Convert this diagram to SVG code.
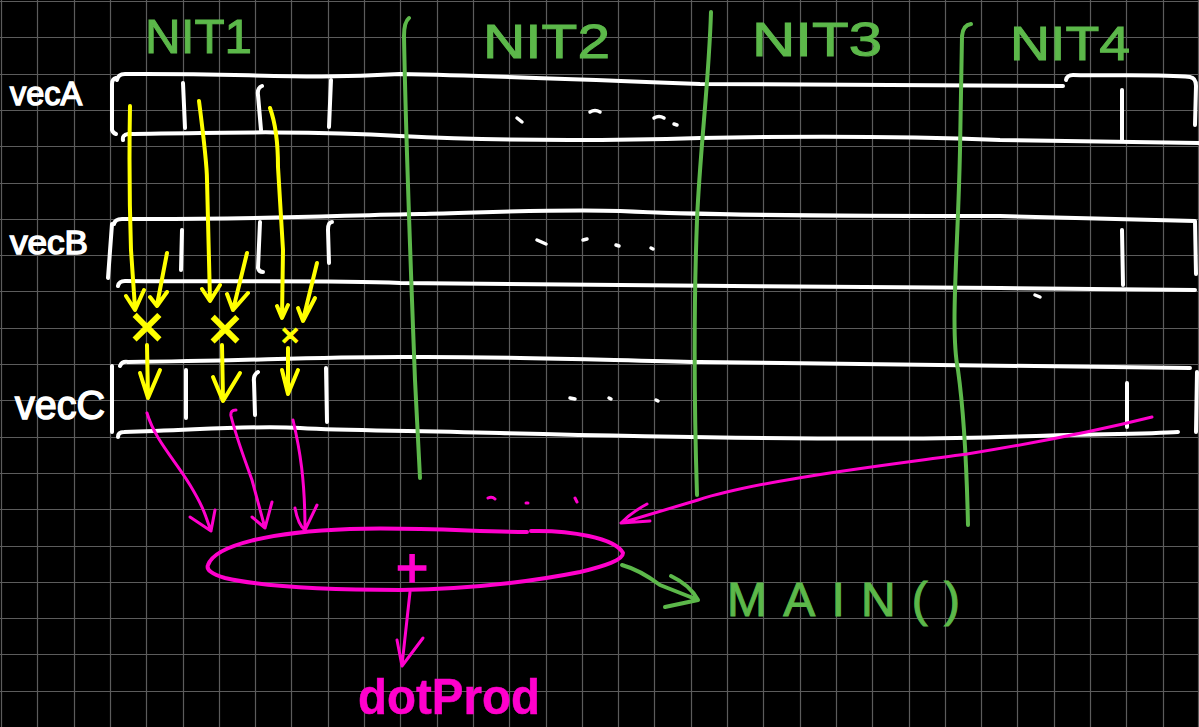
<svg xmlns="http://www.w3.org/2000/svg" width="1199" height="727" viewBox="0 0 1199 727">
<style>
.grid{stroke:#5c5c5c;stroke-width:1.2;fill:none}
.w{stroke:#fff;stroke-width:4;fill:none;stroke-linecap:round;stroke-linejoin:round}
.dot{stroke:#fff;stroke-width:3.5;fill:none;stroke-linecap:round}
.g{stroke:#5cb84a;stroke-width:4;fill:none;stroke-linecap:round;stroke-linejoin:round}
.y{stroke:#ffff00;stroke-width:4;fill:none;stroke-linecap:round;stroke-linejoin:round}
.p{stroke:#ff00cc;stroke-width:3;fill:none;stroke-linecap:round;stroke-linejoin:round}
.pe{stroke:#ff00cc;stroke-width:4;fill:none;stroke-linecap:round;stroke-linejoin:round}
.lbl{font-family:"Liberation Sans",Arial,sans-serif;fill:#fff}
.nit{font-family:"Liberation Sans",Arial,sans-serif;fill:#5cb84a;font-size:48px;stroke:#5cb84a;stroke-width:1}
.ytx{font-family:"Liberation Sans",Arial,sans-serif;fill:#ffff00;stroke:#ffff00;stroke-width:1.5;text-anchor:middle;dominant-baseline:central}
.ptx{font-family:"Liberation Sans",Arial,sans-serif;fill:#ff00cc;stroke:#ff00cc}
</style>
<rect width="1199" height="727" fill="#000"/>
<path class="grid" d="M1.5,0V727M37.5,0V727M74.5,0V727M110.5,0V727M146.5,0V727M183.5,0V727M219.5,0V727M255.5,0V727M291.5,0V727M328.5,0V727M364.5,0V727M400.5,0V727M437.5,0V727M473.5,0V727M509.5,0V727M546.5,0V727M582.5,0V727M618.5,0V727M654.5,0V727M691.5,0V727M727.5,0V727M763.5,0V727M800.5,0V727M836.5,0V727M872.5,0V727M909.5,0V727M945.5,0V727M981.5,0V727M1017.5,0V727M1054.5,0V727M1090.5,0V727M1126.5,0V727M1163.5,0V727M1198.5,0V727M0,1.5H1199M0,37.5H1199M0,74.5H1199M0,110.5H1199M0,146.5H1199M0,183.5H1199M0,219.5H1199M0,255.5H1199M0,291.5H1199M0,328.5H1199M0,364.5H1199M0,400.5H1199M0,437.5H1199M0,473.5H1199M0,509.5H1199M0,546.5H1199M0,582.5H1199M0,618.5H1199M0,654.5H1199M0,691.5H1199M0,727.5H1199"/>

<g id="vecA">
<text class="lbl" x="10" y="105" font-size="34" textLength="72" lengthAdjust="spacingAndGlyphs" stroke="#fff" stroke-width="1.5">vecA</text>
<path class="w" d="M117,80 Q118,74 125,74 C250,73 300,80 400,74 C500,76 600,80 700,84 L1063,86"/>
<path class="w" d="M1066,80 Q1067,75 1073,75 C1120,76 1160,74 1190,77 Q1196,78 1196,86 L1195,125"/>
<path class="w" d="M123,140 Q122,135 128,134 C200,133 300,130 400,136 C500,141 600,141 700,138 C800,136 900,136 1000,140 L1199,143"/>
<path class="w" d="M116,78 Q112,79 112,84 L112,130 Q113,133 116,134"/>
<path class="w" d="M183,83 L185,128 M262,86 Q257,88 258,95 L261,130 M331,80 L329,127 M1122,90 L1122,140"/>
<path class="dot" d="M517,118 L522,122 M590,112 Q595,109 600,112 M654,118 Q659,115 664,118 M674,124 L677,125"/>
</g>

<g id="vecB">
<text class="lbl" x="10" y="254" font-size="34" textLength="78" lengthAdjust="spacingAndGlyphs" stroke="#fff" stroke-width="1.5">vecB</text>
<path class="w" d="M114,224 Q115,219 122,219 C250,220 350,215 420,214 C500,212 560,209 620,211 C700,215 800,216 1000,216 L1195,221 L1196,274"/>
<path class="w" d="M112,224 L108,278"/>
<path class="w" d="M182,230 L181,270 M260,222 L258,268 Q259,272 263,272 M332,222 Q328,222 328,230 L329,263 M1122,230 L1123,285"/>
<path class="w" d="M118,286 Q119,281 125,281 C250,282 330,280 400,283 C600,286 800,286 1000,288 L1195,290"/>
<path class="dot" d="M1035,295 L1040,297"/>
<path class="dot" d="M537,240 L546,244 M583,240 L587,239 M616,245 L619,246 M651,248 L653,249"/>
</g>

<g id="vecC">
<text class="lbl" x="15" y="419" font-size="40" textLength="90" lengthAdjust="spacingAndGlyphs" stroke="#fff" stroke-width="1.5">vecC</text>
<path class="w" d="M120,366 Q122,361 128,362 C250,361 300,357 400,357 C500,356 600,360 700,362 L1190,368"/>
<path class="w" d="M1197,372 L1196,432"/>
<path class="w" d="M118,437 Q118,432 124,432 C200,430 250,425 300,428 C350,431 400,430 500,433 C700,438 900,440 1000,437 C1100,434 1150,434 1178,432"/>
<path class="w" d="M112,366 L112,432"/>
<path class="w" d="M186,370 L186,418 M258,372 Q253,375 254,382 L255,415 M326,368 L327,422 M1127,383 L1127,427"/>
<path class="dot" d="M570,398 L575,399 M609,398 L611,399 M656,400 L658,401"/>
</g>

<g id="nit1"><text class="nit" x="145" y="53" textLength="107" lengthAdjust="spacingAndGlyphs">NIT1</text></g>
<g id="nit2"><text class="nit" x="483" y="58" textLength="127" lengthAdjust="spacingAndGlyphs">NIT2</text></g>
<g id="nit3"><text class="nit" x="752" y="56" textLength="130" lengthAdjust="spacingAndGlyphs">NIT3</text></g>
<g id="nit4"><text class="nit" x="1010" y="60" textLength="120" lengthAdjust="spacingAndGlyphs">NIT4</text></g>

<g id="dividers">
<path class="g" d="M409,18 Q404,22 404,36 C406,150 412,300 415,380 L420,478"/>
<path class="g" d="M711,12 C709,80 700,150 697,220 C694,300 694,400 697,495"/>
<path class="g" d="M971,24 Q963,25 962,36 L960,150 C958,250 950,330 958,370 C965,420 967,480 968,525"/>
</g>

<g id="mult">
<text class="ytx" x="147" y="326" font-size="60">×</text>
<text class="ytx" x="225" y="328" font-size="60">×</text>
<text class="ytx" x="290" y="335" font-size="32">×</text>
</g>

<g id="sum">
<path class="pe" d="M527,532 C480,532 420,527 350,529 C270,532 215,545 208,565 Q205,572 225,578 C260,586 320,590 400,590 C460,589 520,584 580,572 C605,566 623,560 623,553 C615,538 570,530 531,531"/>
<text class="ptx" x="412" y="567" font-size="56" text-anchor="middle" dominant-baseline="central" stroke-width="1.5">+</text>
</g>

<g id="dotProd"><text class="ptx" x="358" y="714" font-size="50" font-weight="bold" textLength="182" lengthAdjust="spacingAndGlyphs" stroke-width="0.5">dotProd</text></g>

<g id="main"><text class="nit" x="727" y="616" textLength="233" lengthAdjust="spacing" stroke-width="0.5">MAIN()</text></g>

<g id="connectors">
<path class="y" d="M130,106 C129,160 130,220 131,250 L135,308 M126,296 L135,310 L144,290"/>
<path class="y" d="M167,253 L157,305 M150,297 L157,306 L167,292"/>
<path class="y" d="M147,345 L148,397 M140,373 L148,398 L160,370"/>
<path class="y" d="M199,101 C204,140 207,170 207,180 L210,300 M202,289 L210,301 L220,285"/>
<path class="y" d="M247,253 L233,310 M227,294 L233,310 L248,293"/>
<path class="y" d="M222,345 L223,400 M213,377 L223,401 L240,373"/>
<path class="y" d="M270,108 Q278,130 278,167 L283,250 L282,317 M277,306 L282,318 L288,305"/>
<path class="y" d="M317,263 L303,320 M298,308 L303,321 L315,298"/>
<path class="y" d="M288,348 L288,393 M282,370 L288,394 L298,370"/>
<path class="p" d="M147,413 C155,440 175,460 190,485 S205,515 211,531 M190,517 L211,531 L215,510"/>
<path class="p" d="M236,410 Q230,410 231,416 C237,440 245,460 252,480 L265,528 M252,517 L265,528 L272,502"/>
<path class="p" d="M293,420 C300,450 305,480 305,530 M295,508 Q298,525 305,530 L317,505"/>
<path class="p" d="M1152,417 C1100,430 1054,440 967,454 C880,466 760,480 698,500 L621,523 M647,504 Q632,512 621,523 L650,521"/>
<path class="p" d="M488,498 Q492,496 495,499 M526,503 L528,503 M575,498 L577,502"/>
<path class="p" d="M410,592 L402,665 M397,640 L402,666 L423,638"/>
<path class="g" d="M622,565 Q640,570 660,585 L698,600 M671,576 Q690,585 698,600 L665,607"/>
</g>
</svg>
